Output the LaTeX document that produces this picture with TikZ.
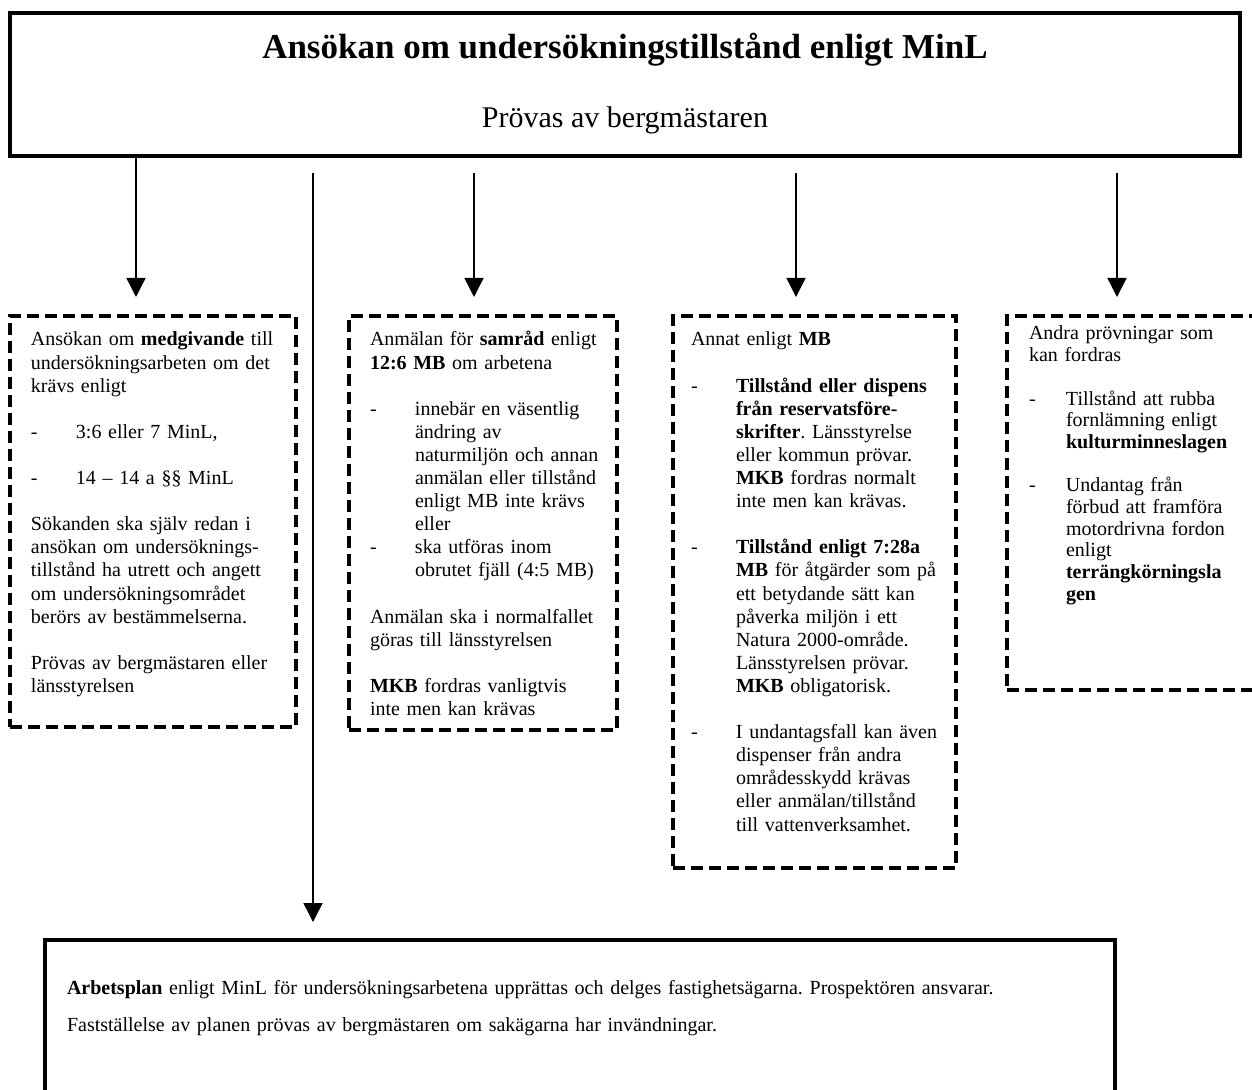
\documentclass[tikz,border=0pt]{standalone}
\usepackage{fontspec}
\setmainfont{Liberation Serif}
\usetikzlibrary{arrows.meta}
\lineskiplimit=-100pt
\frenchspacing
\newcommand\blankline{\par\vspace{\baselineskip}}
\newcommand\dashitem[1][22.5pt]{\par\noindent\hangindent=#1\hangafter=1\makebox[#1][l]{-}\ignorespaces}
\begin{document}
\begin{tikzpicture}[x=0.5pt,y=-0.5pt,
  solidbox/.style={draw, line width=1.75pt, inner sep=0pt, outer sep=0pt, anchor=north west},
  dbox/.style={draw, line width=2pt, dash pattern=on 6pt off 3pt, inner sep=0pt, outer sep=0pt, anchor=north west},
  arr/.style={line width=0.75pt, -{Triangle[length=9.5pt,width=9.5pt]}},
  boxtext/.style={anchor=base west, inner sep=0pt, outer sep=0pt, align=left, font=\frenchspacing\fontsize{10pt}{11.55pt}\selectfont},
]
\useasboundingbox (0,0) rectangle (1252,1090);

% boxes
\node[solidbox, minimum width=615pt, minimum height=71.5pt] (top) at (10,13) {};
\node[dbox, minimum width=143pt, minimum height=205.5pt] (b1) at (10,316) {};
\node[dbox, minimum width=134pt, minimum height=207pt] (b2) at (349,316) {};
\node[dbox, minimum width=141.5pt, minimum height=276pt] (b3) at (673,316) {};
\node[dbox, minimum width=127.5pt, minimum height=187pt] (b4) at (1007,316) {};
\node[solidbox, minimum width=535pt, minimum height=85pt] (bot) at (45,940) {};

% titles
\node[anchor=base, inner sep=0pt, font=\bfseries\fontsize{17.5pt}{20pt}\selectfont] (title) at (625,59) {Ansökan om undersökningstillstånd enligt MinL};
\node[anchor=base, inner sep=0pt, font=\fontsize{15pt}{18pt}\selectfont] (subtitle) at (625,128) {Prövas av bergmästaren};

% arrows
\coordinate (x1) at (136,0);
\coordinate (s2) at (313,173);
\coordinate (s3) at (474,173);
\coordinate (s4) at (796,173);
\coordinate (s5) at (1117,173);
\draw[arr, shorten >=9.5pt] (top.south -| x1) -- (b1.north -| x1);
\draw[arr, shorten >=9pt] (s2) -- (bot.north -| s2);
\draw[arr, shorten >=9.5pt] (s3) -- (b2.north -| s3);
\draw[arr, shorten >=9.5pt] (s4) -- (b3.north -| s4);
\draw[arr, shorten >=9.5pt] (s5) -- (b4.north -| s5);

% box texts
\node[boxtext, text width=130pt] (t1) at (31,346) {Ansökan om \textbf{medgivande} till\newline
undersökningsarbeten om det\newline
krävs enligt
\blankline
\dashitem 3:6 eller 7 MinL,
\blankline
\dashitem 14 – 14 a §§ MinL
\blankline
Sökanden ska själv redan i\newline
ansökan om undersöknings-\newline
tillstånd ha utrett och angett\newline
om undersökningsområdet\newline
berörs av bestämmelserna.
\blankline
Prövas av bergmästaren eller\newline
länsstyrelsen\par};

\node[boxtext, text width=122pt] (t2) at (370,346) {Anmälan för \textbf{samråd} enligt\newline
\textbf{12:6 MB} om arbetena
\blankline
\dashitem innebär en väsentlig\newline
ändring av\newline
naturmiljön och annan\newline
anmälan eller tillstånd\newline
enligt MB inte krävs\newline
eller
\dashitem ska utföras inom\newline
obrutet fjäll (4:5 MB)
\blankline
Anmälan ska i normalfallet\newline
göras till länsstyrelsen
\blankline
\textbf{MKB} fordras vanligtvis\newline
inte men kan krävas\par};

\node[boxtext, text width=128pt] (t3) at (691,346) {Annat enligt \textbf{MB}
\blankline
\dashitem \textbf{Tillstånd eller dispens}\newline
\textbf{från reservatsföre-}\newline
\textbf{skrifter}. Länsstyrelse\newline
eller kommun prövar.\newline
\textbf{MKB} fordras normalt\newline
inte men kan krävas.
\blankline
\dashitem \textbf{Tillstånd enligt 7:28a}\newline
\textbf{MB} för åtgärder som på\newline
ett betydande sätt kan\newline
påverka miljön i ett\newline
Natura 2000-område.\newline
Länsstyrelsen prövar.\newline
\textbf{MKB} obligatorisk.
\blankline
\dashitem I undantagsfall kan även\newline
dispenser från andra\newline
områdesskydd krävas\newline
eller anmälan/tillstånd\newline
till vattenverksamhet.\par};

\node[boxtext, text width=110pt, font=\frenchspacing\fontsize{10pt}{10.85pt}\selectfont] (t4) at (1029,340) {Andra prövningar som\newline
kan fordras
\blankline
\dashitem[18.5pt]Tillstånd att rubba\newline
fornlämning enligt\newline
\textbf{kulturminneslagen}
\blankline
\dashitem[18.5pt]Undantag från\newline
förbud att framföra\newline
motordrivna fordon\newline
enligt\newline
\textbf{terrängkörningsla}\newline
\textbf{gen}\par};

\node[boxtext, text width=520pt] (t5) at (67,994) {\textbf{Arbetsplan} enligt MinL för undersökningsarbetena upprättas och delges fastighetsägarna. Prospektören ansvarar.\par\vspace{7pt}
Fastställelse av planen prövas av bergmästaren om sakägarna har invändningar.\par};
\end{tikzpicture}
\end{document}
